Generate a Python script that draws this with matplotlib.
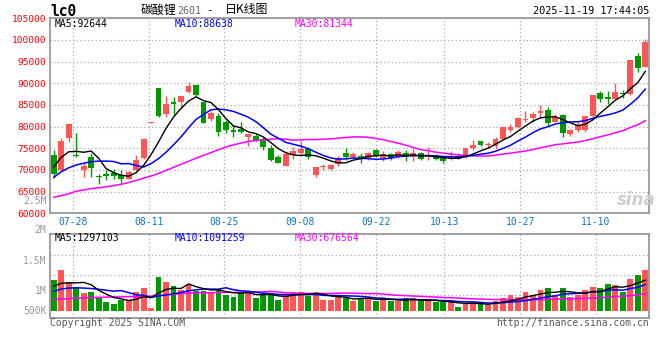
import numpy as np
import pandas as pd
import matplotlib
matplotlib.use("Agg")
import matplotlib.pyplot as plt

# ---------------- data ----------------
open_ = [73450, 69990, 77450, 73300, 69990, 72910, 68600, 69070, 69220, 68840,
         67990, 69990, 72680, 80950, 88990, 82990, 85680, 85610, 87990, 89680,
         85760, 81760, 82450, 80990, 79220, 79370, 77680, 77840, 77070, 75140,
         73070, 70990, 73450, 73840, 74760, 68840, 70610, 70220, 71370, 73990,
         72910, 73220, 72450, 74610, 72680, 73680, 72910, 73840, 72910, 73840,
         72910, 73220, 72760, 72450, 73220, 72910, 74990, 76760, 75680, 75550,
         77070, 79220, 79990, 81530, 81910, 83070, 83840, 81140, 82610, 78300,
         79220, 79220, 82450, 87840, 86910, 86300, 87680, 87530, 96300, 93840]
high = [74600, 77300, 80650, 78450, 71530, 73840, 69070, 69990, 70140, 69990,
        69840, 73370, 77300, 81000, 89000, 87070, 86760, 87070, 90220, 89680,
        85760, 83680, 83220, 81530, 80380, 81140, 78400, 78300, 77680, 75760,
        73370, 74370, 75370, 76760, 75220, 70760, 71300, 71380, 73220, 74990,
        74220, 73840, 74220, 74910, 74300, 73990, 74610, 74610, 74990, 74220,
        75220, 73680, 73220, 74450, 73840, 74990, 76910, 76760, 76530, 77530,
        79990, 80610, 82300, 83680, 83450, 84910, 84610, 82840, 82910, 79530,
        81150, 82450, 87300, 88300, 88220, 90150, 88450, 95380, 96910, 100150]
low = [68070, 69840, 76530, 73100, 68450, 68450, 66680, 67680, 67840, 67070,
       67840, 69760, 72530, 80950, 82300, 82220, 82680, 84450, 87680, 87070,
       80760, 81300, 77910, 78450, 77680, 78450, 75530, 76760, 74610, 72140,
       71530, 70910, 72450, 73680, 72450, 68450, 69990, 69990, 70910, 72300,
       72680, 71530, 72300, 72910, 72140, 72300, 72680, 72140, 72140, 72300,
       72300, 72300, 71680, 72300, 72450, 72680, 74610, 75530, 74990, 75100,
       76910, 78840, 79610, 81070, 81150, 81910, 80150, 80990, 77530, 77840,
       78840, 78840, 82150, 85760, 85220, 86300, 86530, 87300, 92680, 93680]
close = [69070, 76680, 80600, 73150, 70910, 70530, 68300, 68600, 68600, 67840,
         69530, 72300, 77070, 81000, 82450, 85220, 85300, 87070, 89450, 87300,
         80910, 83070, 78840, 79220, 78760, 78760, 78300, 76910, 75370, 72300,
         71680, 73610, 74370, 74840, 72910, 70610, 70910, 71140, 72680, 72910,
         73680, 72680, 73840, 73220, 73680, 72680, 74140, 72910, 73840, 72600,
         73220, 72600, 72140, 72910, 72600, 74990, 75760, 75760, 75990, 77200,
         79840, 79840, 81990, 81840, 82910, 83610, 80760, 82300, 78450, 79220,
         80380, 82450, 87300, 86300, 86450, 87990, 87450, 95380, 93450, 99450]
volume = [1300000, 1720000, 1190000, 980000, 760000, 800000, 560000, 380000, 290000, 460000,
          460000, 800000, 940000, 100000, 1400000, 1220000, 1050000, 890000, 1060000, 830000,
          810000, 770000, 920000, 670000, 590000, 770000, 840000, 520000, 640000, 640000,
          470000, 710000, 800000, 800000, 620000, 760000, 470000, 470000, 620000, 520000,
          390000, 550000, 550000, 390000, 520000, 390000, 390000, 520000, 520000, 390000,
          390000, 350000, 350000, 390000, 170000, 290000, 350000, 290000, 250000, 390000,
          520000, 640000, 560000, 770000, 680000, 850000, 940000, 640000, 970000, 560000,
          640000, 850000, 1010000, 940000, 1130000, 1090000, 770000, 1340000, 1480000, 1730000]

# moving-average values at the start of the window (they need days before the window)
ma5_head = [70700, 72900, 74200, 74300]
ma10_head = [68300, 69600, 70500, 71150, 71550, 71900, 72050, 72050, 71950]
ma30_head = [63700, 64100, 64500, 65100, 65400, 65700, 65900, 66100, 66400, 66700,
             67100, 67600, 68100, 68600, 69200, 69900, 70600, 71300, 72000, 72700,
             73400, 74000, 74700, 75300, 75800, 76200, 76600, 76800, 76900]
vma5_head = [1030000, 1150000, 1170000, 1170000]
vma10_head = [810000, 910000, 950000, 960000, 950000, 930000, 900000, 860000, 820000]
vma30_head = [470000, 490000, 510000, 530000, 540000, 550000, 560000, 570000, 580000, 580000,
              590000, 590000, 600000, 610000, 630000, 660000, 690000, 720000, 740000, 750000,
              750000, 760000, 760000, 770000, 770000, 770000, 780000, 780000, 790000]

date_labels = ["07-28", "08-11", "08-25", "09-08", "09-22", "10-13", "10-27", "11-10"]
price_ticks = [60000, 65000, 70000, 75000, 80000, 85000, 90000, 95000, 100000, 105000]
vol_labels = ["2.5M", "2M", "1.5M", "1M", "500K"]

# trading days (National Day holiday removed)
days = pd.bdate_range("2025-07-23", "2025-11-19")
days = days[(days < "2025-10-01") | (days > "2025-10-08")]
day_str = [d.strftime("%m-%d") for d in days]

# ---------------- figure ----------------
W, H = 660, 360
fig = plt.figure(figsize=(W / 100, H / 100), dpi=100)
fig.patch.set_facecolor("white")


def fx(x):
    return x / W


def fy(y):
    return 1 - y / H


MONO = "DejaVu Sans Mono"
RED = "#ff5555"
GREEN = "#009a00"
GRID = "#aaaaaa"
FRAME = "#999999"

ax = fig.add_axes([fx(50), fy(213.3), 599 / W, (213.3 - 18.3) / H])
axv = fig.add_axes([fx(50), fy(317.7), 599 / W, (317.7 - 234.3) / H])

n = len(close)
x = np.arange(n)
o = np.array(open_, float)
c = np.array(close, float)
hi = np.array(high, float)
lo = np.array(low, float)
up = c >= o
cols = [RED if u else GREEN for u in up]

# candles
ax.vlines(x, lo, hi, colors=cols, linewidth=1.0, zorder=3)
ax.bar(x, np.maximum(np.abs(c - o), 220), bottom=np.minimum(o, c), width=0.78,
       color=cols, linewidth=0, zorder=4)

# moving averages
s = pd.Series(c)
ma5 = s.rolling(5).mean().to_numpy()
ma5[:4] = ma5_head
ma10 = s.rolling(10).mean().to_numpy()
ma10[:9] = ma10_head
ma30 = s.rolling(30).mean().to_numpy()
ma30[:29] = ma30_head
ax.plot(x, ma30, color="#ff00ff", lw=1.1, zorder=5)
ax.plot(x, ma10, color="#0000ff", lw=1.1, zorder=5)
ax.plot(x, ma5, color="black", lw=1.0, zorder=6)

# x positions of the date grid lines (Sina spaces them over n-1 slots)
tick_idx = [day_str.index(d) for d in date_labels]
tick_pos = [i * n / (n - 1) - 0.5 for i in tick_idx]

ax.set_xlim(-0.5, n - 0.5)
ax.set_ylim(price_ticks[0], price_ticks[-1])
ax.set_yticks(price_ticks)
ax.set_yticklabels([str(p) for p in price_ticks], color="red", fontsize=6.8, family=MONO)
ax.set_xticks(tick_pos)
ax.set_xticklabels(date_labels, color="#0a78c8", fontsize=7.0, family=MONO)
ax.tick_params(axis="both", length=0, pad=2.5)
ax.tick_params(axis="y", pad=3)
ax.grid(True, ls=(0, (1, 2)), color=GRID, lw=0.9)
for sp in ax.spines.values():
    sp.set_color(FRAME)
    sp.set_linewidth(1.3)

# volume
axv.bar(x, volume, width=0.78, color=cols, linewidth=0, zorder=3)
v = pd.Series(np.array(volume, float))
vma5 = v.rolling(5).mean().to_numpy()
vma5[:4] = vma5_head
vma10 = v.rolling(10).mean().to_numpy()
vma10[:9] = vma10_head
vma30 = v.rolling(30).mean().to_numpy()
vma30[:29] = vma30_head
axv.plot(x, vma30, color="#ff00ff", lw=1.1, zorder=5)
axv.plot(x, vma10, color="#0000ff", lw=1.1, zorder=5)
axv.plot(x, vma5, color="black", lw=1.0, zorder=6)

px = 42000  # volume units per pixel
axv.set_xlim(-0.5, n - 0.5)
axv.set_ylim(-(317.7 - 310.7) * px, (310.7 - 234.3) * px)
axv.set_yticks([(310.7 - yy) * px for yy in (255, 275, 295)])
axv.set_yticklabels([])
axv.set_xticks(tick_pos)
axv.set_xticklabels([])
axv.tick_params(axis="both", length=0)
axv.grid(True, ls=(0, (1, 2)), color=GRID, lw=0.9)
for sp in axv.spines.values():
    sp.set_color(FRAME)
    sp.set_linewidth(1.3)

# volume axis labels (positioned like the reference)
for lab, yy in zip(vol_labels, [201.5, 230.5, 260.7, 290.7, 310.7]):
    fig.text(fx(46.5), fy(yy), lab, color="#999999", fontsize=7.0, family=MONO,
             ha="right", va="center")

# headers
fig.text(fx(50), fy(11), "lc0", fontsize=10.5, weight="bold", family=MONO,
         ha="left", va="center")
CJK = ["Noto Sans CJK SC", "DejaVu Sans"]
fig.text(fx(141), fy(10), "碳酸锂", fontsize=8.6, family=CJK, ha="left", va="center")
fig.text(fx(177.5), fy(10.5), "2601", fontsize=7.2, family=MONO, color="#666666",
         ha="left", va="center")
fig.text(fx(206), fy(10), "-", fontsize=8.0, family=MONO, ha="left", va="center")
fig.text(fx(225), fy(10), "日K线图", fontsize=8.6, family=CJK, ha="left", va="center")
fig.text(fx(649), fy(11.5), "2025-11-19 17:44:05", fontsize=7.4, family=MONO,
         ha="right", va="center")

# MA legends
fig.text(fx(55), fy(23.7), "MA5:92644", fontsize=7.0, family=MONO, color="black", va="center")
fig.text(fx(175), fy(23.7), "MA10:88638", fontsize=7.0, family=MONO, color="#0000ff", va="center")
fig.text(fx(295), fy(23.7), "MA30:81344", fontsize=7.0, family=MONO, color="#ff00ff", va="center")
fig.text(fx(55), fy(238.3), "MA5:1297103", fontsize=7.0, family=MONO, color="black", va="center")
fig.text(fx(175), fy(238.3), "MA10:1091259", fontsize=7.0, family=MONO, color="#0000ff", va="center")
fig.text(fx(295), fy(238.3), "MA30:676564", fontsize=7.0, family=MONO, color="#ff00ff", va="center")

# footer
fig.text(fx(50), fy(323.5), "Copyright 2025 SINA.COM", fontsize=7.0, family=MONO,
         color="#555555", ha="left", va="center")
fig.text(fx(649), fy(323.5), "http://finance.sina.com.cn", fontsize=7.0, family=MONO,
         color="#555555", ha="right", va="center")

# watermark
fig.text(fx(636), fy(200), "sina", fontsize=12, weight="bold", style="italic",
         color="#cfcfcf", ha="center", va="center", family="DejaVu Sans")

fig.savefig("out.png", dpi=100, facecolor="white")
